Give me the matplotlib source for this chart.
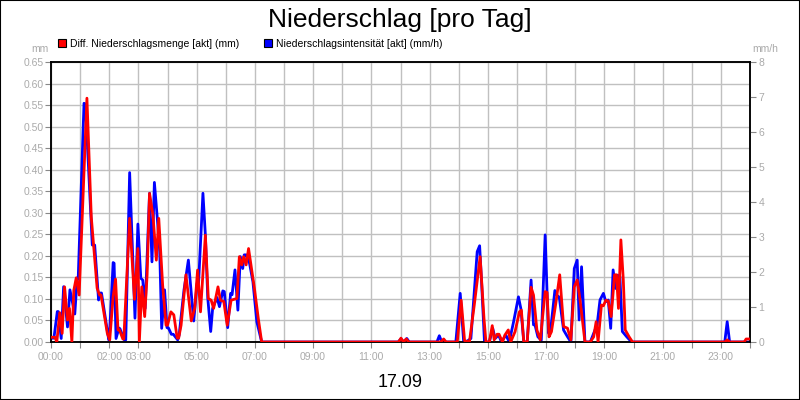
import matplotlib
matplotlib.use("Agg")
import matplotlib.pyplot as plt
from matplotlib.patches import Patch, Rectangle
from matplotlib.ticker import FixedLocator, FixedFormatter

plt.rcParams['font.family'] = ['Liberation Sans', 'DejaVu Sans']

red_t = [0, 8, 12, 18, 23, 28, 34, 38, 43, 47, 52, 58, 74, 83, 88, 95, 100, 103,
         116, 121, 128, 133, 138, 141, 148, 150, 162, 172, 179, 182, 187, 193, 198,
         203, 210, 217, 222, 230, 237, 240, 247, 253, 260, 263, 268, 278, 289, 296,
         302, 308, 318, 324, 330, 335, 344, 349, 356, 363, 371, 383, 388, 393, 397,
         402, 407, 412, 419, 427, 434,
         716, 721, 726, 732, 737,
         803, 809, 814, 837, 845, 852, 862, 872, 884, 892, 896, 903, 909, 913, 919,
         923, 930, 935, 942, 947, 956, 965, 969, 974, 981, 989, 994, 1001, 1008,
         1018, 1022, 1026, 1031, 1040, 1048, 1056, 1064, 1071, 1078, 1084, 1090,
         1100, 1111, 1118, 1123, 1127, 1134, 1138, 1143, 1148, 1154, 1161, 1165,
         1169, 1174, 1179, 1183, 1191, 1198,
         1388, 1393, 1398, 1428, 1432, 1438]
red_v = [0.011, 0.011, 0.0, 0.068, 0.02, 0.128, 0.051, 0.078, 0.0, 0.12, 0.149, 0.109,
         0.566, 0.29, 0.221, 0.125, 0.109, 0.109, 0.02, 0.005, 0.105, 0.146, 0.028,
         0.028, 0.007, 0.007, 0.287, 0.099, 0.217, 0.0, 0.128, 0.059, 0.156, 0.345,
         0.295, 0.19, 0.287, 0.132, 0.039, 0.039, 0.07, 0.063, 0.009, 0.009, 0.039,
         0.156, 0.049, 0.078, 0.167, 0.07, 0.248, 0.101, 0.097, 0.078, 0.128, 0.097,
         0.094, 0.039, 0.097, 0.101, 0.198, 0.179, 0.198, 0.179, 0.217, 0.179, 0.125,
         0.055, 0.0,
         0.0, 0.009, 0.0, 0.007, 0.0,
         0.0, 0.007, 0.0, 0.0, 0.097, 0.003, 0.0, 0.086, 0.198, 0.055, 0.0, 0.0,
         0.038, 0.005, 0.018, 0.018, 0.0, 0.016, 0.028, 0.0, 0.024, 0.07, 0.074, 0.0,
         0.0, 0.127, 0.109, 0.028, 0.005, 0.117, 0.115, 0.012, 0.024, 0.09, 0.156,
         0.036, 0.032, 0.005, 0.128, 0.144, 0.097, 0.0, 0.0, 0.012, 0.047, 0.0, 0.086,
         0.084, 0.097, 0.095, 0.059, 0.156, 0.156, 0.078, 0.237, 0.144, 0.028, 0.012,
         0.0,
         0.0, 0.005, 0.0, 0.0, 0.007, 0.007]

blue_t = [0, 6, 13, 15, 21, 26, 34, 39, 49, 54, 56, 68, 71, 85, 90, 98, 102, 104,
          119, 120, 128, 130, 134, 140, 142, 151, 154, 162, 173, 179, 185, 189, 194,
          203, 208, 213, 219, 224, 228, 234, 239, 242, 248, 252, 261, 264, 274, 283,
          294, 301, 304, 313, 318, 323, 329, 333, 342, 347, 354, 357, 364, 370, 373,
          379, 385, 390, 395, 398, 402, 409, 416, 424, 434,
          715, 721, 726, 733, 738,
          795, 800, 805, 834, 843, 850, 855, 865, 878, 883, 887, 893, 903, 910, 915,
          922, 928, 937, 944, 953, 963, 968, 974, 981, 989, 994, 997, 1003, 1010,
          1018, 1022, 1025, 1030, 1038, 1044, 1047, 1056, 1064, 1071, 1078, 1084,
          1088, 1093, 1100, 1111, 1118, 1125, 1131, 1138, 1143, 1148, 1153, 1158,
          1163, 1167, 1172, 1177, 1186, 1196,
          1388, 1393, 1398, 1438]
blue_v = [0.11, 0.11, 0.87, 0.87, 0.1, 1.58, 0.43, 1.49, 0.8, 1.83, 1.8, 6.82, 6.8,
          2.77, 2.77, 1.2, 1.4, 1.4, 0.06, 0.06, 2.27, 2.25, 0.1, 0.4, 0.38, 0.06, 0.06,
          4.84, 0.68, 3.37, 1.82, 1.77, 0.96, 4.25, 2.29, 4.56, 3.53, 2.58, 0.39, 1.49,
          0.41, 0.4, 0.22, 0.22, 0.06, 0.2, 1.49, 2.34, 0.6, 1.68, 1.68, 4.25, 3.06,
          1.25, 0.3, 0.96, 1.27, 1.01, 1.46, 1.44, 0.41, 1.39, 1.35, 2.06, 0.91, 2.44,
          2.1, 2.49, 2.49, 2.25, 1.72, 0.58, 0.0,
          0.0, 0.09, 0.0, 0.1, 0.0,
          0.0, 0.18, 0.0, 0.0, 1.39, 0.03, 0.0, 0.1, 2.58, 2.75, 1.72, 0.0, 0.0, 0.39,
          0.1, 0.2, 0.0, 0.2, 0.0, 0.58, 1.29, 0.95, 0.0, 0.0, 1.77, 0.49, 0.49, 0.15,
          0.05, 3.06, 1.39, 0.25, 0.44, 1.47, 1.29, 1.29, 0.34, 0.15, 0.0, 2.1, 2.34,
          0.63, 2.15, 0.0, 0.0, 0.25, 0.49, 1.2, 1.39, 1.15, 1.2, 0.39, 2.06, 1.53,
          1.91, 1.87, 0.3, 0.15, 0.0,
          0.0, 0.58, 0.0, 0.0]

labeled_hours = [0, 2, 3, 5, 7, 9, 11, 13, 15, 17, 19, 21, 23]
mm_ticks = [i * 0.05 for i in range(14)]
mmh_ticks = list(range(9))

gray = '#aaaaaa'
fs = 7.5

fig = plt.figure(figsize=(8, 4), dpi=100)
fig.patches.append(Rectangle((0, 0), 1, 1, transform=fig.transFigure,
                             fill=False, edgecolor='black', linewidth=1.5))

ax = fig.add_axes([51 / 800, 1 - 342 / 400, 699 / 800, 280 / 400])
ax_b = ax.twinx()
ax_r = ax.twinx()

# Raster + linke Achse
ax.set_xlim(0, 1440)
ax.set_ylim(0, 0.65)
ax.xaxis.set_major_locator(FixedLocator(list(range(0, 1441, 60))))
ax.xaxis.set_major_formatter(FixedFormatter(
    ['%02d:00' % h if h in labeled_hours else '' for h in range(25)]))
ax.set_yticks(mm_ticks)
ax.set_yticklabels(['%.2f' % v for v in mm_ticks])
ax.grid(True, color='#c0c0c0', linewidth=1.0)
ax.set_axisbelow(True)
ax.tick_params(axis='both', colors='#888888', labelcolor=gray, labelsize=fs,
               length=4, width=0.8)
ax.tick_params(axis='y', pad=1)
ax.tick_params(axis='x', pad=3)
for s in ax.spines.values():
    s.set_color('black')
    s.set_linewidth(1.1)

# rechte Achse: Intensitaet
ax_b.plot(blue_t, blue_v, color='#0000ff', linewidth=2.0)
ax_b.set_ylim(0, 8)
ax_b.set_yticks(mmh_ticks)
ax_b.tick_params(axis='y', colors='#888888', labelcolor=gray, labelsize=fs,
                 length=4, width=0.8, pad=2)
for s in ax_b.spines.values():
    s.set_color('black')
    s.set_linewidth(1.1)

# Menge oben drauf
ax_r.plot(red_t, red_v, color='#ff0000', linewidth=2.0)
ax_r.set_ylim(0, 0.65)
ax_r.set_xlim(0, 1440)
ax_r.set_axis_off()

fig.text(0.5, 1 - 27 / 400, 'Niederschlag [pro Tag]', ha='center', va='baseline',
         fontsize=19, color='black')
fig.text(0.5, 1 - 387 / 400, '17.09', ha='center', va='baseline',
         fontsize=13, color='black')
fig.text(40 / 800, 1 - 52 / 400, 'mm', ha='center', va='baseline',
         fontsize=fs, color=gray)
fig.text(765 / 800, 1 - 52 / 400, 'mm/h', ha='center', va='baseline',
         fontsize=fs, color=gray)

handles = [Patch(facecolor='#ff0000', edgecolor='black', linewidth=0.8),
           Patch(facecolor='#0000ff', edgecolor='black', linewidth=0.8)]
fig.legend(handles, ['Diff. Niederschlagsmenge [akt] (mm)',
                     'Niederschlagsintensität [akt] (mm/h)'],
           loc='center left', bbox_to_anchor=(58 / 800, 1 - 44 / 400), ncol=2,
           frameon=False, fontsize=fs, handlelength=0.77, handleheight=0.77,
           handletextpad=0.38, columnspacing=2.4, borderpad=0, borderaxespad=0)

fig.savefig('out.png', dpi=100)
